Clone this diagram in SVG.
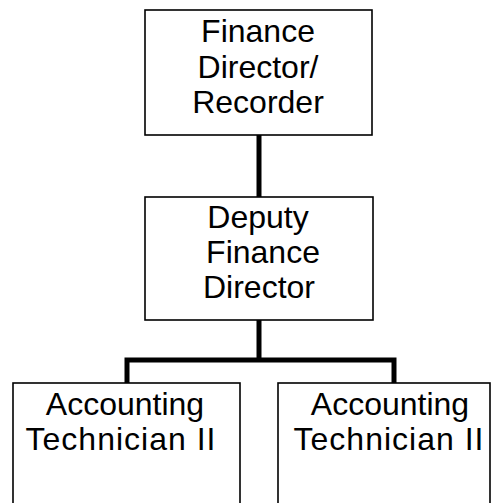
<svg xmlns="http://www.w3.org/2000/svg" width="491" height="503" viewBox="0 0 491 503">
<style>
.box{fill:#fff;stroke:#000;stroke-width:1.6}
.t{font-family:"Liberation Sans",Arial,sans-serif;font-size:32px;fill:#000;text-anchor:middle}
.w{letter-spacing:1px}
.c{fill:none;stroke:#000;stroke-width:5}
</style>
<rect width="491" height="503" fill="#fff"/>
<g id="connectors">
<line class="c" x1="259" y1="135" x2="259" y2="197"/>
<line class="c" x1="259" y1="320" x2="259" y2="360"/>
<polyline class="c" points="127,383 127,360 394,360 394,383"/>
</g>
<g id="finance-director">
<rect class="box" x="145" y="10" width="227" height="125"/>
<text class="t" x="258" y="42">Finance</text>
<text class="t" x="258" y="78">Director/</text>
<text class="t" x="258" y="113">Recorder</text>
</g>
<g id="deputy-finance-director">
<rect class="box" x="145" y="197" width="228" height="123"/>
<text class="t" x="258" y="228">Deputy</text>
<text class="t" x="263" y="263">Finance</text>
<text class="t" x="259" y="298">Director</text>
</g>
<g id="accounting-tech-1">
<rect class="box" x="13" y="383" width="227" height="130"/>
<text class="t" x="125" y="415">Accounting</text>
<text class="t w" x="121" y="450">Technician II</text>
</g>
<g id="accounting-tech-2">
<rect class="box" x="278" y="383" width="212" height="130"/>
<text class="t" x="390" y="415">Accounting</text>
<text class="t w" x="389" y="450">Technician II</text>
</g>
</svg>
